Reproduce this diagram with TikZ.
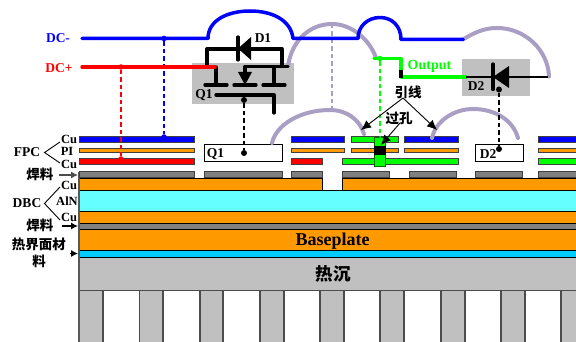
\documentclass[tikz,border=0pt]{standalone}
\usepackage{fontspec}
\setmainfont{Liberation Serif}
\newfontfamily\cjk{Noto Sans CJK SC}
\usetikzlibrary{arrows.meta}
\definecolor{cuorange}{HTML}{FF9900}
\definecolor{aln}{HTML}{66FFFF}
\definecolor{tim}{HTML}{00CCFF}
\definecolor{sink}{HTML}{C0C0C0}
\definecolor{solder}{HTML}{808080}
\definecolor{bond}{HTML}{A99FC4}
\definecolor{lime}{HTML}{00FF00}
\tikzset{
  layer/.style={draw=black,line width=0.9pt},
  seg/.style={draw=black!75,line width=1pt},
  fin/.style={fill=sink,draw=black!70,line width=1.1pt},
  wire/.style={line width=3.5pt,line cap=round,line join=round},
  bondw/.style={draw=bond,line width=4pt,line cap=round},
  sym/.style={line width=3.3pt,line cap=round,line join=round},
  drop/.style={line width=1.3pt,dash pattern=on 4.5pt off 3pt},
  lab/.style={font=\bfseries\fontsize{13.5}{13.5}\selectfont,inner sep=0pt,text=black},
  stack/.style={font=\bfseries\fontsize{12.5}{12.5}\selectfont,inner sep=0pt,text=black},
  cjklab/.style={font=\cjk\bfseries\fontsize{13.5}{13.5}\selectfont,inner sep=0pt},
  thin arrow/.style={line width=0.9pt,-{Latex[length=10pt,width=9pt]}},
  small arrow/.style={line width=1.1pt,-{Latex[length=7pt,width=7pt]}},
  dotmark/.style={circle,fill,inner sep=0pt,minimum size=6pt}
}
\begin{document}
\begin{tikzpicture}[x=1pt,y=-1pt]
\useasboundingbox (0,0) rectangle (576,342);
\clip (0,0) rectangle (576,342);
% heat sink and fins
\foreach \a/\b in {79/103,139.5/163,200/223,260/284,320/344,380/404,441/465,501/525,561/577}
  \path[fin] (\a,290.5) rectangle (\b,343);
\path[fin] (79,257) rectangle (577,290.5);
\path[layer,fill=tim] (79,250.5) rectangle (577,257);
\path[layer,fill=cuorange] (79,229) rectangle (577,250.5);
\path[layer,fill=solder] (79,223) rectangle (577,229);
\path[layer,fill=cuorange] (79,211) rectangle (577,223);
\path[layer,fill=aln] (79,190) rectangle (577,211);
\path[layer,fill=cuorange] (79,178) rectangle (322,190);
\path[layer,fill=cuorange] (342,178) rectangle (577,190);
\draw[black!65,line width=1.1pt] (79,172) -- (79,343);
% solder
\foreach \a/\b in {79/194,204/282,291/322,342/389,409/456,475/522,538/577}
  \path[seg,fill=solder] (\a,172) rectangle (\b,178);
% FPC top Cu
\foreach \a/\b in {79/194,291/344,404/458,538/577}
  \path[seg,fill=blue] (\a,137) rectangle (\b,143);
\path[seg,fill=lime] (351,137) rectangle (398,143);
% PI
\foreach \a/\b in {79/194,291/344,351/398,404/458,538/577}
  \path[seg,fill=cuorange] (\a,149) rectangle (\b,153);
% FPC bottom Cu
\foreach \a/\b in {79/194,291/322}
  \path[seg,fill=red] (\a,159) rectangle (\b,165);
\path[seg,fill=lime] (342,159) rectangle (458,165);
\path[seg,fill=lime] (538,159) rectangle (577,165);
% via
\path[draw=black!60!green,line width=0.8pt,fill=lime] (374.5,137) rectangle (385,166);
\fill[black] (374,146) rectangle (385.5,155.5);
% chip boxes
\node[draw=black,line width=0.9pt,fill=white,minimum width=78pt,minimum height=17pt,inner sep=0pt] (chipQ) at (243,152.5) {};
\node[draw=black,line width=0.9pt,fill=white,minimum width=48pt,minimum height=17pt,inner sep=0pt] (chipD) at (499,152.5) {};
\node[lab] at (215.5,154) {Q1};
\node[lab] at (488,154) {D2};
% grey symbol backgrounds
\fill[sink] (192,63) rectangle (294,104);
\fill[sink] (462,59) rectangle (530,96);
% bond wires
\coordinate (pa) at (288,66);
\coordinate (pb) at (332,24);
\coordinate (pc) at (376,58);
\draw[bondw] (pa) .. controls (292,40) and (310,24) .. (pb) .. controls (352,24) and (370,40) .. (pc);
\draw[bondw] (463,39.5) .. controls (475,32) and (485,28) .. (497,28) .. controls (525,28) and (548,50) .. (549,76.5);
\draw[bondw] (272,143) .. controls (276,125) and (300,110) .. (330,110) .. controls (347,110) and (360,120) .. (364,134);
\draw[bondw] (432,138) .. controls (436,120) and (455,109) .. (473,109) .. controls (495,109) and (513,120) .. (518,138);
\draw[drop,bond] (pb) -- (332,110);
% DC- wire
\coordinate (dcmS) at (82,38.5);
\draw[wire,blue] (dcmS) -- (208,38.5) .. controls (208,20) and (228,11) .. (250,11) .. controls (272,11) and (291,20) .. (293,38.5) -- (358,38.5) .. controls (358,26) and (368,17.5) .. (380,17.5) .. controls (392,17.5) and (401,26) .. (401,39.5) -- (463,39.5);
% drops
\node[dotmark,blue,minimum size=5.5pt] (nb) at (164,38.5) {};
\node[dotmark,red,minimum size=5.5pt] (nr) at (121,67) {};
\node[dotmark,blue,minimum size=5.5pt] (nb2) at (164,137) {};
\node[dotmark,red,minimum size=5.5pt] (nr2) at (121,159) {};
\draw[drop,blue] (nb) -- (nb2);
\draw[drop,red] (nr) -- (nr2);
% MOSFET and D1
\draw[sym] (207,67) -- (207,49) -- (282,49) -- (282,66.5);
\draw[sym] (245,73) -- (245,66.5) -- (288,66.5);
\fill (238,72) -- (252,72) -- (245,85) -- cycle;
\draw[sym] (216,67) -- (216,85);
\draw[sym] (205,85) -- (227,85);
\draw[sym] (234,85) -- (256,85);
\draw[sym] (263,85) -- (285,85);
\draw[sym] (274,67) -- (274,85);
\draw[sym] (216,95) -- (274,95) -- (274,113);
\draw[sym] (238,37) -- (238,60);
\fill (238,48.5) -- (251,37) -- (251,60) -- cycle;
\node[lab] at (263,38) {D1};
\node[lab] at (204,95) {Q1};
\node[dotmark] (gq) at (244,100) {};
\node[dotmark] (gq2) at (244,153) {};
\draw[drop] (gq) -- (gq2);
% DC+ wire
\coordinate (dcpS) at (82,67);
\draw[wire,red] (dcpS) -- (215,67);
% Output wire
\node[dotmark,lime,minimum size=5.5pt] (ng) at (380,58.5) {};
\draw[wire,lime] (374,58.5) -- (401,58.5) -- (401,77) -- (466,77);
\draw[line width=3.3pt] (401,70) -- (401,78);
\node[dotmark,lime,minimum size=2pt] (ng2) at (380,137) {};
\draw[drop,lime] (ng) -- (ng2);
\node[font=\bfseries\fontsize{14}{14}\selectfont,text=lime,inner sep=0pt] at (429.5,66) {Output};
% D2 symbol
\draw[line width=2.6pt] (466,77) -- (548,77);
\draw[sym] (493,64) -- (493,89.5);
\fill (493,77) -- (509,66) -- (509,88) -- cycle;
\node[lab] at (476,86.5) {D2};
\node[dotmark] (gd) at (499,89.5) {};
\node[dotmark] (gd2) at (499,149) {};
\draw[drop] (gd) -- (gd2);
% callouts
\node[cjklab] (yx) at (408,92) {引线};
\node[cjklab] (gk) at (399,118) {过孔};
\coordinate (yxo) at (403,98);
\draw[thin arrow] (yxo) -- (361,130);
\draw[thin arrow] (yxo) -- (437,130);
\draw[thin arrow] (400,123) -- (381,145);
% left labels
\node[lab] (fpc) at (27,152.5) {FPC};
\node[stack] (cu1) at (69,139) {Cu};
\node[stack] (pi) at (67,151.5) {PI};
\node[stack] (cu2) at (69,164) {Cu};
\coordinate (fpcv) at (44.5,152.5);
\draw[line width=0.9pt] (60,142) -- (fpcv) -- (60,163);
\node[lab] (dbc) at (27,203.5) {DBC};
\node[stack] (cu3) at (69,185) {Cu};
\node[stack] (aln) at (67,201) {AlN};
\node[stack] (cu4) at (69,217) {Cu};
\coordinate (dbcv) at (44.5,203.5);
\draw[line width=0.9pt] (60,187) -- (dbcv) -- (60,220);
\node[cjklab] (hl1) at (40,174) {焊料};
\node[cjklab] (hl2) at (40,225.5) {焊料};
\node[cjklab] (tim1) at (39,244) {热界面材};
\node[cjklab] (tim2) at (39,261) {料};
\coordinate (a1) at (78,175);
\coordinate (a2) at (78,226);
\coordinate (a3) at (78,253.5);
\draw[small arrow,black!70] (59,175) -- (a1);
\draw[small arrow] (62,226) -- (a2);
\draw[small arrow] (70,253.5) -- (a3);
\node[font=\bfseries\fontsize{13.5}{13.5}\selectfont,text=blue,inner sep=0pt] at (58,38) {DC-};
\node[font=\bfseries\fontsize{13.5}{13.5}\selectfont,text=red,inner sep=0pt] at (59,68) {DC+};
\node[font=\bfseries\fontsize{18}{18}\selectfont,inner sep=0pt,text=black] at (332.5,241) {Baseplate};
\node[font=\cjk\bfseries\fontsize{17.5}{17.5}\selectfont,inner sep=0pt] at (333,273.5) {热沉};
\end{tikzpicture}
\end{document}
